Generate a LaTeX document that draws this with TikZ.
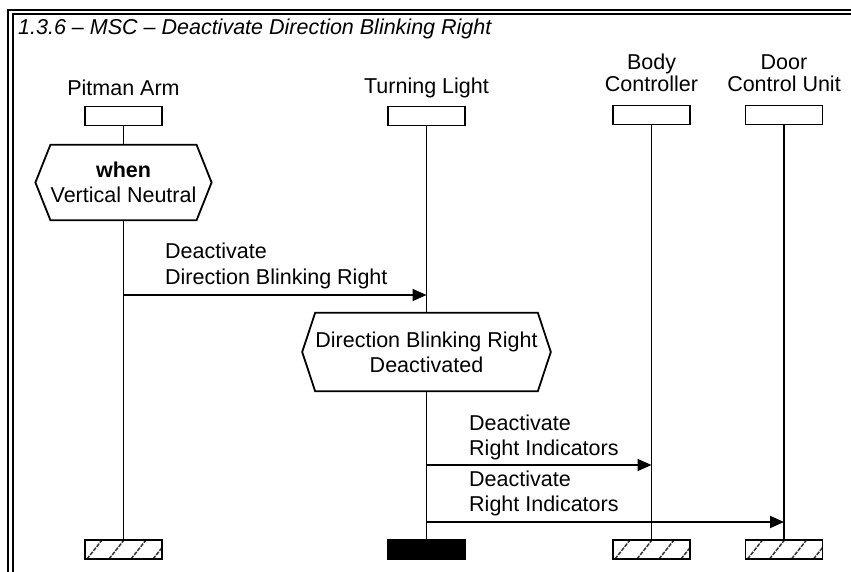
\documentclass[tikz,border=0pt]{standalone}
\usepackage{fontspec}
\setmainfont{Liberation Sans}
\usetikzlibrary{arrows.meta}
\begin{document}
\begin{tikzpicture}[x=1pt,y=-1pt,
  txt/.style={font=\fontsize{21.5}{25}\selectfont, inner sep=0pt, align=center},
  hdtxt/.style={font=\fontsize{21.5}{22.5}\selectfont, inner sep=0pt, align=center},
  msgtxt/.style={font=\fontsize{21.5}{25.5}\selectfont, inner sep=0pt, align=left, anchor=west},
  box/.style={draw, line width=1.8pt, minimum width=77pt, minimum height=19pt, inner sep=0pt},
  hatched/.style={box, path picture={
      \foreach \i in {0,1,2,3}{
        \draw[line width=1.5pt, black!80, dash pattern=on 4pt off 1.2pt]
          ([xshift=2pt+22pt*\i]path picture bounding box.south west) --
          ([xshift=17pt+22pt*\i]path picture bounding box.north west);
      }}},
  life/.style={line width=1.8pt},
  hexa/.style={line width=1.8pt},
  msg/.style={line width=1.8pt, -{Triangle[length=14pt,width=12pt]}},
  frameline/.style={line width=2pt}
]
\useasboundingbox (0,0) rectangle (851,572);
\fill[white] (0,0) rectangle (851,572);

% frame
\draw[frameline] (8,580) -- (8,10) -- (860,10);
\draw[frameline] (12.5,580) -- (12.5,14.5) -- (860,14.5);
\node[font=\fontsize{21.5}{25}\selectfont\itshape, inner sep=0pt, anchor=base west] (title) at (18,35) {1.3.6 -- MSC -- Deactivate Direction Blinking Right};

% instance labels
\node[txt] (pal) at (123.5,88) {Pitman Arm};
\node[txt] (tll) at (426.5,88) {Turning Light};
\node[hdtxt] (bcl) at (651.5,73) {Body\\Controller};
\node[hdtxt] (dcl) at (784,73) {Door\\Control Unit};

% heads
\node[box] (pah) at (123.5,116) {};
\node[box] (tlh) at (426.5,116) {};
\node[box] (bch) at (651.5,115) {};
\node[box] (dch) at (784,115) {};

% conditions
\node[txt, minimum width=143pt, minimum height=75pt] (c1) at (123.5,182.5) {\textbf{when}\\Vertical Neutral};
\draw[hexa] (c1.north west) -- (c1.north east) -- ([xshift=15pt]c1.east) -- (c1.south east) -- (c1.south west) -- ([xshift=-15pt]c1.west) -- cycle;
\node[txt, minimum width=222pt, minimum height=78pt] (c2) at (426.5,352) {Direction Blinking Right\\Deactivated};
\draw[hexa] (c2.north west) -- (c2.north east) -- ([xshift=13pt]c2.east) -- (c2.south east) -- (c2.south west) -- ([xshift=-13pt]c2.west) -- cycle;

% ends
\node[hatched] (paf) at (123.5,549.5) {};
\node[box, fill=black] (tlf) at (426.5,549.5) {};
\node[hatched] (bcf) at (651.5,549.5) {};
\node[hatched] (dcf) at (784,549.5) {};

% lifelines
\draw[life] (pah) -- (c1);
\draw[life] (c1) -- (paf);
\draw[life] (tlh) -- (c2);
\draw[life] (c2) -- (tlf);
\draw[life] (bch) -- (bcf);
\draw[life] (dch) -- (dcf);

% messages
\coordinate (m1s) at (123.5,295);
\coordinate (m1e) at (426.5,295);
\draw[msg] (m1s) -- (m1e);
\node[msgtxt] (m1l) at (165,266) {Deactivate\\Direction Blinking Right};

\coordinate (m2s) at (426.5,465);
\coordinate (m2e) at (651.5,465);
\draw[msg] (m2s) -- (m2e);
\node[msgtxt] (m2l) at (469,437.5) {Deactivate\\Right Indicators};

\coordinate (m3s) at (426.5,522);
\coordinate (m3e) at (784,522);
\draw[msg] (m3s) -- (m3e);
\node[msgtxt] (m3l) at (469,493.5) {Deactivate\\Right Indicators};
\end{tikzpicture}
\end{document}
